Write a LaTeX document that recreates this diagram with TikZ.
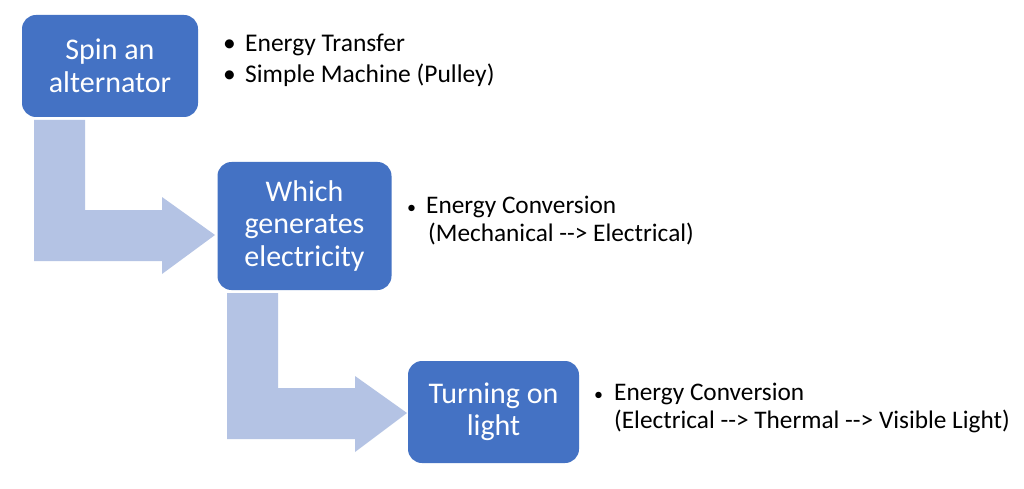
\documentclass[tikz,border=0pt]{standalone}
\usepackage{fontspec}
\setmainfont{Carlito}
\definecolor{boxblue}{HTML}{4472C4}
\definecolor{arrowblue}{HTML}{B4C3E4}
\begin{document}
\begin{tikzpicture}[x=1pt,y=-1pt,
  stepbox/.style={fill=boxblue, draw=none, rounded corners=14pt, text=white, align=center,
    font=\fontsize{30}{32.5}\selectfont, inner sep=0pt},
  bendarrow/.style={fill=arrowblue, draw=none},
  bul/.style={anchor=base west, inner sep=0pt, text=black},
  bigbul/.style={bul, font=\fontsize{25.5}{30}\selectfont},
  smallbul/.style={bul, font=\fontsize{25.3}{28}\selectfont},
  dotbul/.style={bul, font=\fontsize{18}{20}\selectfont}]
\useasboundingbox (0,0) rectangle (1024,489);
\fill[white] (0,0) rectangle (1024,489);
% bent arrows
\fill[bendarrow] (34,120) -- (85,120) -- (85,210) -- (162,210) -- (162,197) -- (215,235)
  -- (162,274) -- (162,261) -- (34,261) -- cycle;
\fill[bendarrow] (227,293) -- (278,293) -- (278,388) -- (355,388) -- (355,376) -- (407,413)
  -- (355,452) -- (355,439) -- (227,439) -- cycle;
% boxes
\node[stepbox, minimum width=176pt, minimum height=102pt] (b1) at (110,66) {Spin an\\alternator};
\node[stepbox, minimum width=174pt, minimum height=128pt] (b2) at (304.5,226) {Which\\generates\\electricity};
\node[stepbox, minimum width=171pt, minimum height=102pt] (b3) at (493.5,412) {Turning on\\light};
% bullets group 1
\node[bigbul] (d1) at (223,52) {•};
\node[bigbul] (t1) at (245,52) {Energy Transfer};
\node[bigbul] (d2) at (223,83) {•};
\node[bigbul] (t2) at (245,83) {Simple Machine (Pulley)};
% bullets group 2
\node[dotbul] (d3) at (407,213) {•};
\node[smallbul] (t3) at (426,213) {Energy Conversion};
\node[smallbul] (t4) at (428,241) {(Mechanical -{}-> Electrical)};
% bullets group 3
\node[dotbul] (d4) at (594,400) {•};
\node[smallbul] (t5) at (614,400) {Energy Conversion};
\node[smallbul] (t6) at (614,428) {(Electrical -{}-> Thermal -{}-> Visible Light)};
\end{tikzpicture}
\end{document}
